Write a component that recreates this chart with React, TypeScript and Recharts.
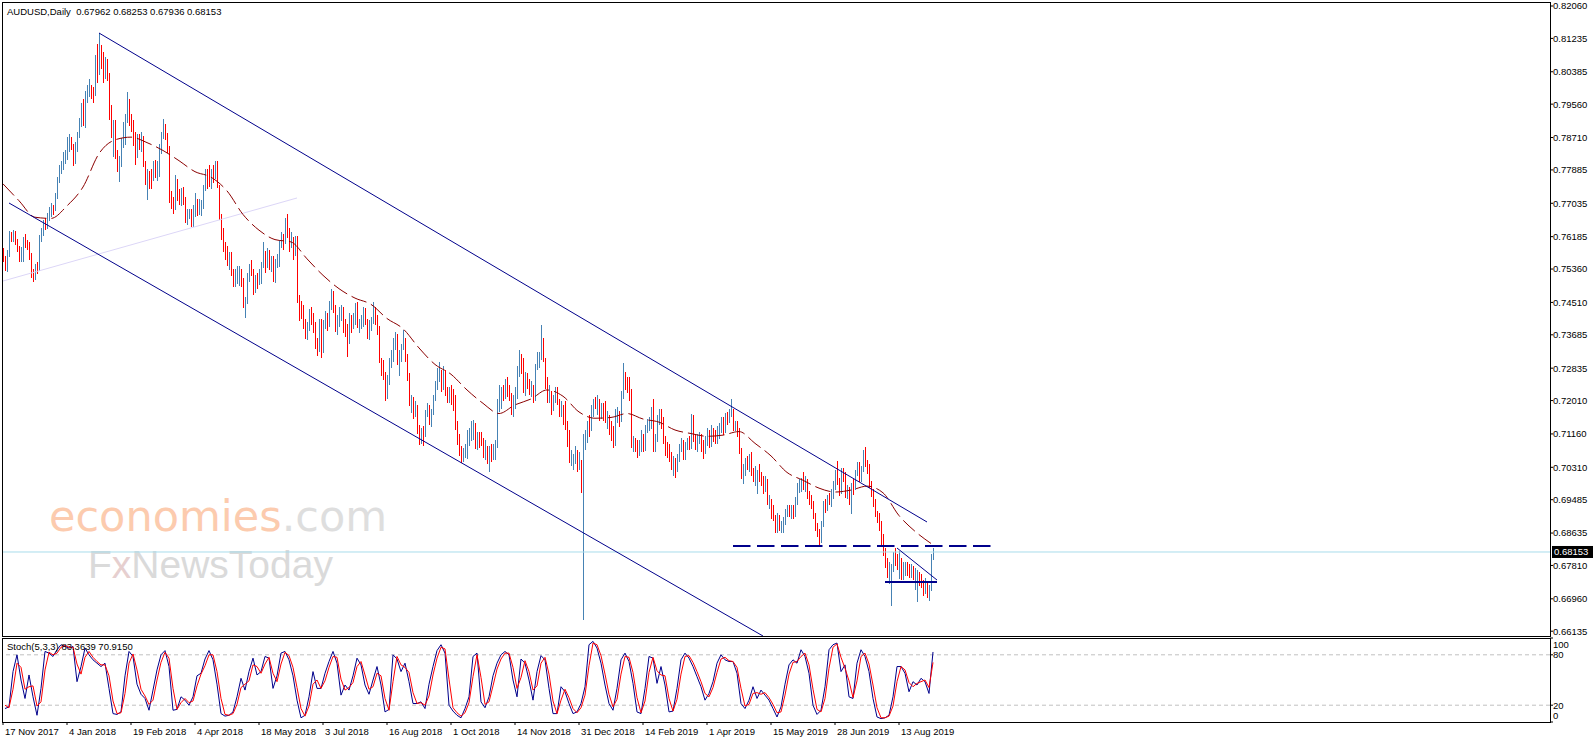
import React from 'react';
import { ComposedChart, LineChart, Bar, Line, XAxis, YAxis, ReferenceLine } from 'recharts';

const FONT = '"Liberation Sans", Arial, sans-serif';
const UP = '#4682B4';
const DOWN = '#FF0000';
const NAVY = '#00008B';

// daily AUDUSD bars, prices in pips (x 0.0001); open = previous close
const firstOpen = 7576;

const closes = [
  // 17 Nov 2017
  7567,7540,7572,7625,7612,7612,7600,7585,7565,7565,7607,7605,7598,7575,7522,7518,7542,7535,7615,7628,7652,7645,7668,7682,7695,7690,7722,7762,7792,7803,7826,7832,
  // 4 Jan 2018
  7865,7868,7848,7815,7850,7878,7912,7950,7918,7980,7992,7998,7990,7985,8072,8040,8090,8085,8040,8060,8030,7925,7880,7895,7825,7808,7812,7860,7900,7920,7955,7920,
  // 19 Feb 2018
  7912,7862,7825,7870,7855,7860,7805,7762,7770,7768,7765,7802,7785,7792,7848,7878,7892,7878,7842,7718,7706,7690,7768,7722,7708,7735,7712,7662,7675,7680,7655,7690,
  // 4 Apr 2018
  7700,7688,7690,7698,7745,7775,7760,7758,7785,7768,7780,7745,7668,7625,7592,7590,7562,7570,7530,7500,7522,7525,7532,7510,7445,7455,7518,7540,7530,7480,7510,7500,
  // 18 May 2018
  7515,7548,7580,7548,7578,7545,7560,7515,7555,7565,7600,7615,7605,7640,7630,7600,7610,7575,7605,7458,7445,7440,7405,7372,7390,7430,7420,7390,7345,7335,7400,7340,
  // 3 Jul 2018
  7395,7420,7410,7440,7470,7440,7385,7405,7425,7430,7395,7385,7355,7415,7400,7405,7440,7395,7395,7405,7430,7405,7375,7395,7405,7430,7410,7385,7300,7280,7260,7230,
  // 16 Aug 2018
  7255,7300,7320,7355,7365,7300,7318,7340,7350,7315,7260,7190,7205,7175,7185,7125,7105,7125,7120,7170,7180,7155,7175,7210,7240,7275,7275,7240,7260,7225,7205,7225,
  // 1 Oct 2018
  7220,7205,7135,7110,7080,7065,7068,7085,7110,7115,7135,7140,7095,7110,7105,7100,7075,7080,7065,7075,7060,7080,7085,7195,7205,7225,7220,7255,7230,7215,7170,7210,
  // 14 Nov 2018
  7225,7280,7305,7300,7230,7260,7240,7230,7235,7205,7290,7310,7310,7355,7305,7245,7210,7215,7185,7205,7225,7200,7175,7180,7165,7130,7120,7045,7045,7055,7075,7040,
  // 31 Dec 2018
  7045,7005,7090,7105,7140,7130,7185,7200,7195,7195,7175,7185,7170,7160,7160,7135,7125,7095,7170,7170,7155,7215,7270,7245,7240,7225,7090,7095,7090,7065,7085,7110,
  // 14 Feb 2019
  7095,7135,7145,7145,7170,7100,7100,7155,7170,7155,7095,7080,7065,7055,7035,7045,7040,7055,7080,7095,7060,7090,7095,7090,7135,7100,7085,7105,7110,7095,7075,7100,
  // 1 Apr 2019
  7120,7105,7125,7115,7105,7125,7140,7155,7125,7165,7155,7170,7175,7135,7135,7125,7070,7015,7025,7045,7040,7050,7015,7010,7015,7015,7010,7000,6990,6995,6940,6945,
  // 15 May 2019
  6920,6905,6875,6905,6880,6890,6895,6920,6925,6920,6925,6915,6940,6985,6985,6995,6990,6990,6955,6945,6935,6905,6880,6865,6855,6890,6940,6925,6955,6950,6960,6980,
  // 28 Jun 2019
  7020,6995,6975,7015,7010,6970,6975,6945,6985,6980,7020,7035,7005,7025,7070,7040,7035,6990,6960,6940,6910,6905,6880,6840,6815,6795,6765,6765,6770,6805,6795,6780,
  // 13 Aug 2019
  6790,6755,6770,6775,6770,6760,6775,6760,6760,6760,6745,6735,6725,6735,6710,6725,6796,6815,
];

const highs = [
  7590,7570,7585,7632,7630,7635,7632,7612,7595,7592,7618,7625,7610,7605,7578,7535,7550,7555,7622,7640,7660,7665,7680,7695,7705,7700,7730,7770,7800,7812,7835,7840,
  7873,7880,7872,7855,7860,7885,7920,7960,7970,7990,8005,8020,8005,8000,8082,8110,8136,8106,8090,8075,8070,8035,7955,7915,7915,7840,7825,7870,7910,7930,7988,7970,
  7930,7915,7885,7880,7880,7885,7875,7810,7790,7785,7790,7812,7815,7810,7855,7885,7917,7905,7882,7850,7735,7720,7775,7765,7740,7742,7745,7720,7690,7690,7690,7700,
  7730,7715,7715,7712,7750,7790,7790,7800,7790,7800,7812,7810,7750,7675,7640,7605,7595,7580,7580,7535,7535,7545,7545,7535,7512,7465,7525,7550,7560,7535,7520,7525,
  7535,7555,7605,7582,7590,7585,7570,7570,7562,7575,7610,7630,7625,7665,7677,7640,7630,7618,7620,7620,7470,7455,7445,7410,7400,7435,7440,7425,7400,7360,7410,7410,
  7405,7430,7425,7455,7484,7480,7445,7420,7440,7445,7440,7410,7395,7425,7420,7425,7450,7452,7410,7420,7440,7438,7410,7405,7415,7452,7440,7420,7390,7310,7305,7275,
  7265,7310,7330,7360,7375,7370,7330,7345,7382,7360,7320,7270,7215,7210,7200,7190,7140,7130,7135,7178,7195,7190,7180,7215,7250,7285,7300,7280,7290,7280,7235,7235,
  7240,7230,7215,7150,7115,7085,7080,7090,7125,7130,7150,7152,7145,7120,7120,7120,7105,7100,7085,7085,7090,7090,7100,7205,7240,7235,7240,7257,7260,7240,7220,7215,
  7235,7290,7330,7320,7310,7275,7270,7255,7250,7240,7295,7325,7325,7393,7360,7310,7260,7240,7225,7215,7235,7235,7205,7200,7190,7200,7150,7125,7075,7065,7085,7075,
  7070,7050,7115,7125,7150,7165,7190,7205,7210,7215,7205,7195,7195,7200,7175,7165,7150,7135,7180,7185,7175,7225,7296,7275,7260,7260,7230,7110,7105,7100,7100,7125,
  7115,7140,7155,7160,7185,7205,7115,7165,7180,7180,7160,7110,7095,7090,7070,7060,7055,7065,7090,7105,7100,7095,7105,7110,7168,7165,7115,7115,7120,7115,7100,7110,
  7130,7125,7140,7130,7125,7135,7145,7160,7160,7170,7172,7180,7206,7180,7150,7150,7130,7080,7040,7055,7060,7065,7070,7030,7035,7025,7040,7020,7010,7010,7000,6960,
  6950,6935,6910,6915,6910,6895,6905,6925,6935,6935,6935,6935,6955,6990,7000,7005,7020,7010,7000,6970,6960,6945,6915,6890,6875,6895,6945,6950,6960,6965,6975,6995,
  7025,7047,7005,7030,7030,7020,6985,6980,6990,7000,7025,7045,7045,7035,7075,7082,7050,7040,6995,6975,6950,6920,6915,6895,6860,6825,6800,6790,6785,6815,6825,6810,
  6817,6800,6790,6790,6790,6785,6785,6780,6775,6770,6765,6760,6745,6750,6740,6730,6810,6825,
];

const lows = [
  7555,7532,7530,7565,7605,7605,7597,7578,7555,7555,7555,7590,7585,7560,7515,7501,7510,7525,7530,7605,7618,7635,7640,7660,7670,7675,7685,7715,7755,7780,7790,7805,
  7815,7835,7838,7800,7805,7835,7870,7900,7900,7895,7960,7975,7970,7960,7978,8010,8030,8045,8010,8020,8015,7915,7870,7820,7815,7785,7759,7795,7845,7850,7910,7900,
  7885,7850,7800,7820,7840,7835,7795,7750,7712,7740,7740,7760,7770,7760,7770,7830,7865,7865,7830,7705,7690,7676,7685,7710,7700,7695,7700,7655,7650,7665,7644,7645,
  7670,7672,7675,7670,7690,7735,7740,7745,7740,7755,7765,7740,7660,7610,7580,7560,7545,7535,7520,7490,7490,7500,7495,7490,7435,7412,7445,7505,7520,7470,7475,7485,
  7495,7500,7540,7525,7540,7535,7530,7505,7500,7540,7540,7590,7585,7600,7615,7580,7590,7560,7570,7450,7405,7410,7385,7360,7353,7380,7395,7375,7330,7315,7325,7310,
  7320,7385,7380,7390,7430,7425,7375,7370,7390,7405,7375,7365,7310,7345,7375,7385,7395,7385,7375,7385,7390,7395,7360,7355,7380,7395,7395,7370,7295,7265,7255,7202,
  7205,7240,7285,7300,7330,7290,7265,7300,7330,7300,7250,7185,7170,7155,7160,7115,7090,7090,7085,7110,7160,7140,7135,7165,7200,7230,7250,7225,7230,7215,7195,7195,
  7190,7175,7125,7090,7060,7041,7045,7055,7050,7085,7100,7100,7080,7075,7080,7085,7055,7050,7040,7020,7045,7050,7050,7080,7170,7180,7200,7205,7210,7200,7165,7160,
  7180,7205,7260,7270,7220,7215,7230,7215,7210,7195,7200,7280,7285,7305,7300,7230,7195,7195,7165,7175,7195,7190,7160,7160,7140,7125,7085,7040,7035,7025,7040,7020,
  7025,6965,6642,7075,7095,7110,7125,7160,7180,7165,7150,7155,7150,7145,7130,7115,7100,7078,7085,7145,7135,7145,7205,7230,7220,7200,7080,7070,7070,7055,7060,7070,
  7070,7075,7120,7125,7130,7070,7070,7095,7140,7130,7090,7060,7055,7045,7025,7010,7003,7020,7045,7070,7050,7050,7075,7075,7080,7095,7075,7070,7090,7070,7052,7065,
  7085,7080,7085,7095,7090,7090,7105,7120,7115,7120,7140,7145,7160,7125,7125,7110,7065,7000,6988,7010,7025,7020,7010,6995,6985,6965,6995,6985,6965,6970,6935,6925,
  6900,6895,6865,6865,6870,6865,6865,6885,6905,6905,6900,6900,6905,6935,6965,6970,6975,6970,6950,6935,6925,6900,6870,6855,6832,6840,6880,6915,6920,6935,6930,6950,
  6975,6985,6960,6965,6995,6955,6950,6935,6911,6960,6975,7010,6995,6995,7020,7030,7015,6980,6955,6930,6905,6890,6870,6835,6805,6775,6750,6735,6677,6765,6780,6770,
  6745,6745,6745,6755,6755,6750,6750,6745,6720,6688,6730,6725,6705,6710,6700,6688,6715,6794,
];

// moving average (dashed), read every 8 bars
const maStep = 8;
const maValues = [
  0.7753,0.7710,0.7668,0.7665,0.7697,0.7745,0.7830,0.7865,0.7872,0.7858,
  0.7838,0.7812,0.7784,0.7770,0.7735,0.7675,0.7635,0.7611,0.7605,0.7562,
  0.7520,0.7486,0.7462,0.7446,0.7410,0.7384,0.7335,0.7293,0.7268,0.7228,
  0.7194,0.7168,0.7190,0.7205,0.7228,0.7212,0.7172,0.7156,0.7158,0.7168,
  0.7154,0.7146,0.7126,0.7117,0.7110,0.7113,0.7122,0.7092,0.7060,0.7018,
  0.6998,0.6978,0.6968,0.6973,0.6983,0.6966,0.6908,0.6868,0.6837,
];

// Stoch(5,3,3), read every 2nd bar (bars 1, 3, 5 ...)
const stochK = [
  16,18,60,80,50,28,56,30,8,40, 84,82,78,86,92,90,88,90,48,66, 88,80,74,70,66,70,40,10,9,12,
  55,84,78,45,33,28,14,38,62,80, 85,66,14,15,30,26,20,30,55,58, 75,85,74,45,10,7,8,12,30,52,
  38,60,76,56,60,78,76,40,55,82, 84,74,55,26,5,8,30,60,40,40, 58,72,84,70,32,44,38,55,76,68,
  44,33,50,66,44,12,15,80,75,60, 70,48,22,22,24,16,45,66,85,92, 82,20,13,8,5,16,30,78,82,24,
  17,30,55,70,80,84,80,50,30,75, 70,50,26,60,79,74,40,10,10,42, 36,22,10,12,22,42,92,96,88,70,
  44,22,14,40,74,82,72,46,12,10, 40,78,76,46,66,44,12,13,40,74, 82,76,66,54,42,26,34,48,70,80,
  74,72,72,58,22,16,26,42,28,38, 32,26,16,6,18,45,68,74,70,86, 78,58,20,9,14,42,86,92,94,60,
  68,30,28,70,86,78,60,28,6,4, 5,8,30,66,66,58,36,48,44,52, 48,34,83.36,
];
const stochD = [
  20,17,39,70,65,39,42,43,19,24, 62,83,80,82,89,91,89,89,69,57, 77,84,77,72,68,68,55,25,10,11,
  34,70,81,62,39,31,21,26,50,71, 83,76,40,15,23,28,23,25,43,57, 67,80,80,60,28,9,8,10,21,41,
  45,49,68,66,58,69,77,58,48,69, 83,79,65,41,16,7,19,45,50,40, 49,65,78,77,51,38,41,47,66,72,
  56,39,42,58,55,28,14,48,78,68, 65,59,35,22,23,20,31,56,76,89, 87,51,17,11,7,11,23,54,80,53,
  21,24,43,63,75,82,82,65,40,53, 73,60,38,43,70,77,57,25,10,26, 39,29,16,11,17,32,67,94,92,79,
  57,33,18,27,57,78,77,59,29,11, 25,59,77,61,56,55,28,13,27,57, 78,79,71,60,48,34,30,41,59,75,
  77,73,72,65,40,19,21,34,35,33, 35,29,21,11,12,32,57,71,72,78, 82,68,39,15,12,28,64,89,93,77,
  64,49,29,49,78,82,69,44,17,5, 5,7,19,48,66,62,47,42,46,48, 50,41,70.92,
];

const dateLabels = [
  '17 Nov 2017', '4 Jan 2018', '19 Feb 2018', '4 Apr 2018', '18 May 2018', '3 Jul 2018',
  '16 Aug 2018', '1 Oct 2018', '14 Nov 2018', '31 Dec 2018', '14 Feb 2019', '1 Apr 2019',
  '15 May 2019', '28 Jun 2019', '13 Aug 2019',
];
const labelStep = 32; // bars between date labels

const priceTicks = [
  0.8206, 0.81235, 0.80385, 0.7956, 0.7871, 0.77885, 0.77035, 0.76185, 0.7536, 0.7451,
  0.73685, 0.72835, 0.7201, 0.7116, 0.7031, 0.69485, 0.68635, 0.6781, 0.6696, 0.66135,
];
const lastPrice = 0.68153;
const slotCount = 774; // bar slots across the window, incl. empty space on the right

const pip = 0.0001;

const rows = Array.from({ length: slotCount }, (_, i) => {
  if (i >= closes.length) return { i, hl: null, up: true, ma: null };
  const open = i === 0 ? firstOpen : closes[i - 1];
  const ma = i % maStep === 0 && maValues[i / maStep] !== undefined ? maValues[i / maStep] : null;
  return { i, hl: [lows[i] * pip, highs[i] * pip], up: closes[i] >= open, ma };
});

const stochRows = stochK.map((k, j) => ({ i: j === stochK.length - 1 ? closes.length - 1 : 2 * j + 1, k, d: stochD[j] }));
const dateTicks = dateLabels.map((_, n) => n * labelStep);

const HLBar = (props: any) => {
  const { x, y, width, height, payload } = props;
  if (!payload || !payload.hl) return null;
  const cx = Math.floor(x + width / 2);
  const top = Math.min(y, y + height);
  const h = Math.max(1, Math.round(Math.abs(height)));
  return <rect x={cx} y={Math.round(top)} width={1} height={h} fill={payload.up ? UP : DOWN} shapeRendering="crispEdges" />;
};

const PriceBox = (props: any) => {
  const vb = props.viewBox;
  if (!vb) return null;
  const x = vb.x + vb.width + 2;
  return (
    <g>
      <rect x={x} y={vb.y - 6} width={41} height={12} fill="#000" />
      <text x={x + 2} y={vb.y + 3.5} fill="#fff" fontSize={9.5} fontFamily={FONT}>{lastPrice.toFixed(5)}</text>
    </g>
  );
};

const DateTick = (props: any) => {
  const { x, y, payload } = props;
  return (
    <text x={x + 2} y={y + 9.5} fontSize={9.5} fontFamily={FONT} fill="#000" textAnchor="start">
      {dateLabels[payload.value / labelStep]}
    </text>
  );
};

const StochTick = (props: any) => {
  const { x, y, payload } = props;
  const shift = payload.value === 100 ? 7 : payload.value === 0 ? -6 : 0;
  return (
    <text x={x} y={y + shift + 3.4} fontSize={9.5} fontFamily={FONT} fill="#000" textAnchor="start">
      {payload.value}
    </text>
  );
};

export default function App() {
  return (
    <div style={{ position: 'relative', width: 1596, height: 743, background: '#fff', fontFamily: FONT, overflow: 'hidden' }}>
      <style>{'body{margin:0}'}</style>

      <svg width={1596} height={743} style={{ position: 'absolute', left: 0, top: 0 }}>
        <text x={49} y={531} fontFamily='"DejaVu Sans", sans-serif' fontSize={43}>
          <tspan fill="#FCCBAE">economies</tspan>
          <tspan fill="#DEDEDE">.com</tspan>
        </text>
        <text x={88} y={578} fontFamily={FONT} fontSize={39} fill="#DADADA">
          F<tspan fill="#E6CFCF">x</tspan>NewsToday
        </text>
      </svg>

      <div style={{ position: 'absolute', left: 0, top: 0 }}>
        <ComposedChart width={1596} height={640} data={rows} margin={{ top: 2, right: 0, bottom: 4, left: 2 }} barCategoryGap={0} barGap={0}>
          <XAxis dataKey="i" hide />
          <YAxis
            orientation="right"
            width={46}
            type="number"
            domain={[0.66013, 0.82162]}
            allowDataOverflow
            ticks={priceTicks}
            interval={0}
            tickFormatter={(v: number) => v.toFixed(5)}
            tick={{ fontSize: 9.5, fill: '#000', fontFamily: FONT }}
            tickLine={{ stroke: '#000' }}
            tickSize={3}
            tickMargin={0}
            axisLine={false}
          />
          <ReferenceLine y={lastPrice} stroke="#A8DCEB" ifOverflow="visible" label={<PriceBox />} />
          <ReferenceLine segment={[{ x: 0, y: 0.75055 }, { x: 147, y: 0.7717 }]} stroke="#DCD6F7" ifOverflow="hidden" />
          <Bar dataKey="hl" shape={<HLBar />} isAnimationActive={false} />
          <Line dataKey="ma" type="monotone" connectNulls dot={false} stroke="#8B0000" strokeWidth={1} strokeDasharray="16 5" isAnimationActive={false} />
          <ReferenceLine segment={[{ x: 48, y: 0.81372 }, { x: 462, y: 0.68917 }]} stroke={NAVY} ifOverflow="hidden" />
          <ReferenceLine segment={[{ x: 3, y: 0.77042 }, { x: 380, y: 0.66013 }]} stroke={NAVY} ifOverflow="hidden" />
          <ReferenceLine segment={[{ x: 365, y: 0.68305 }, { x: 494, y: 0.68305 }]} stroke={NAVY} strokeWidth={2} strokeDasharray="17.5 6.5" ifOverflow="hidden" />
          <ReferenceLine segment={[{ x: 447, y: 0.68254 }, { x: 467, y: 0.67439 }]} stroke={NAVY} ifOverflow="hidden" />
          <ReferenceLine segment={[{ x: 441, y: 0.67388 }, { x: 467, y: 0.67388 }]} stroke={NAVY} strokeWidth={2} ifOverflow="hidden" />
        </ComposedChart>
      </div>

      <div style={{ position: 'absolute', left: 0, top: 636 }}>
        <LineChart width={1596} height={107} data={stochRows} margin={{ top: 2, right: 0, bottom: 0, left: 2 }}>
          <XAxis
            dataKey="i"
            type="number"
            domain={[-0.5, slotCount - 0.5]}
            allowDataOverflow
            ticks={dateTicks}
            interval={0}
            height={21}
            tickSize={3}
            tickMargin={0}
            axisLine={false}
            tickLine={{ stroke: '#000' }}
            tick={<DateTick />}
          />
          <YAxis
            orientation="right"
            width={46}
            type="number"
            domain={[0, 100]}
            ticks={[100, 80, 20, 0]}
            interval={0}
            tickSize={3}
            tickMargin={0}
            axisLine={false}
            tickLine={{ stroke: '#000' }}
            tick={<StochTick />}
          />
          <ReferenceLine y={80} stroke="#C0C0C0" strokeDasharray="4 3" />
          <ReferenceLine y={20} stroke="#C0C0C0" strokeDasharray="4 3" />
          <Line dataKey="k" type="linear" dot={false} stroke="#00008B" strokeWidth={1} isAnimationActive={false} />
          <Line dataKey="d" type="linear" dot={false} stroke="#FF0000" strokeWidth={1} isAnimationActive={false} />
        </LineChart>
      </div>

      <svg width={1596} height={743} style={{ position: 'absolute', left: 0, top: 0, pointerEvents: 'none' }}>
        <rect x={2.5} y={2.5} width={1548} height={634} fill="none" stroke="#000" />
        <rect x={2.5} y={638.5} width={1548} height={84} fill="none" stroke="#000" />
        <text x={7} y={14.5} fontSize={9.5} fontFamily={FONT} fill="#000" style={{ whiteSpace: 'pre' }}>
          {'AUDUSD,Daily  0.67962 0.68253 0.67936 0.68153'}
        </text>
        <text x={7} y={649.5} fontSize={9.5} fontFamily={FONT} fill="#000" style={{ whiteSpace: 'pre' }}>
          {'Stoch(5,3,3) 83.3639 70.9150'}
        </text>
      </svg>
    </div>
  );
}
